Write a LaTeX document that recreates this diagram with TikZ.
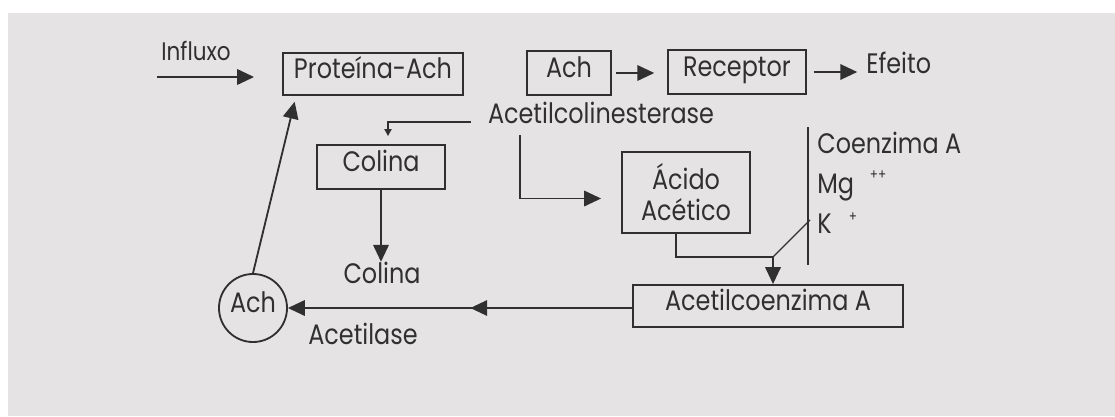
\documentclass[tikz,border=0pt]{standalone}
\usepackage{fontspec}
\setmainfont{Poppins}[FakeStretch=0.85]
\usetikzlibrary{arrows.meta,decorations.markings}
\definecolor{ink}{RGB}{48,48,48}
\definecolor{paper}{RGB}{229,227,227}
\tikzset{
  lbl/.style={font=\fontsize{20}{22}\selectfont, text=ink, inner sep=0pt},
  capline/.style={text height=0.7em, text depth=0pt},
  boxnode/.style={lbl, capline, draw=ink, line width=1.3pt},
  conn/.style={draw=ink, color=ink, line width=1.3pt},
  tip/.style={-{Triangle[length=12pt,width=11pt]}},
  smalltip/.style={-{Triangle[length=5pt,width=5pt]}},
  midtip/.style={postaction={decorate}, decoration={markings,
      mark=at position #1 with {\arrow{Triangle[length=12pt,width=11pt]}}}}
}
\begin{document}
\begin{tikzpicture}[x=0.025cm,y=-0.025cm]
  % page and paper
  \useasboundingbox (0,0) rectangle (1115,416);
  \fill[white] (0,0) rectangle (1115,416);
  \fill[paper] (8,13) rectangle (1115,416);

  % top row
  \node[lbl, capline, font=\fontsize{18}{20}\selectfont] (infl) at (196,56) {Influxo};
  \coordinate (inS) at (157,77);
  \node[boxnode, minimum width=4.5cm, minimum height=1.05cm] (prot) at (373,74) {Proteína-Ach};
  \node[boxnode, minimum width=2.1cm, minimum height=1.1cm] (ach) at (569,73) {Ach};
  \node[boxnode, minimum width=3.45cm, minimum height=1.1cm] (rec) at (737,72) {Receptor};
  \node[lbl, capline, anchor=west] (efe) at (866,69) {Efeito};

  \draw[conn, tip, shorten >=0.7cm] (inS) -- (inS -| prot.west);
  \draw[conn, tip, shorten <=0.1cm, shorten >=0.32cm] (ach.east) -- (ach.east -| rec.west);
  \draw[conn, tip, shorten <=0.17cm, shorten >=0.22cm] (rec.east) -- (rec.east -| efe.west);

  % hydrolysis
  \node[lbl, capline] (ace) at (601,119) {Acetilcolinesterase};
  \node[boxnode, minimum width=3.2cm, minimum height=1.1cm] (col) at (381,167) {Colina};
  \node[lbl, capline] (col2) at (382,279) {Colina};
  \node[lbl, draw=ink, line width=1.3pt, align=center, font=\fontsize{20}{22}\selectfont,
        minimum width=3.2cm, minimum height=2.025cm] (aci) at (686,192.5) {Ácido\\Acético};

  \draw[conn, smalltip] ([xshift=-0.425cm,yshift=-0.075cm]ace.west)
        -| ([xshift=0.175cm,yshift=0.2cm]col.north);
  \draw[conn, tip, shorten >=0.3cm] (col.south) -- (col.south |- col2.north);
  \draw[conn, tip, shorten <=0.27cm, shorten >=0.5cm]
        ([xshift=0.8cm]ace.south west) |- ([yshift=-0.15cm]aci.west);

  % cofactors
  \coordinate (barT) at (808,127);
  \coordinate (barB) at (808,265);
  \draw[conn] (barT) -- (barB);
  \node[lbl, anchor=base west] (coa) at (817,153) {Coenzima A};
  \node[lbl, anchor=base west] (mg) at (817,193) {Mg};
  \node[lbl, font=\fontsize{10}{12}\selectfont] (mgch) at (878,175) {++};
  \node[lbl, anchor=base west] (kk) at (817,233) {K};
  \node[lbl, font=\fontsize{10}{12}\selectfont] (kch) at (853,217) {+};

  % acetylation
  \node[boxnode, minimum width=6.75cm, minimum height=1.05cm] (acoe) at (768,306) {Acetilcoenzima A};
  \coordinate (jn) at (773,257);
  \coordinate (kcut) at (810,220);
  \draw[conn, tip] ([xshift=-0.25cm]aci.south) |- (jn) -- (jn |- acoe.north);
  \draw[conn, line width=0.9pt] (kcut) -- (jn);

  \node[lbl, capline, draw=ink, line width=1.3pt, circle, minimum size=1.7cm] (achc) at (253,308) {Ach};
  \node[lbl, capline] (acl) at (363,340) {Acetilase};

  \draw[conn, tip, midtip=0.47] (acoe.west |- achc.east) -- (achc.east);
  \draw[conn, tip, shorten >=0.15cm] (achc.north) -- ([xshift=0.35cm]prot.south west);
\end{tikzpicture}
\end{document}
